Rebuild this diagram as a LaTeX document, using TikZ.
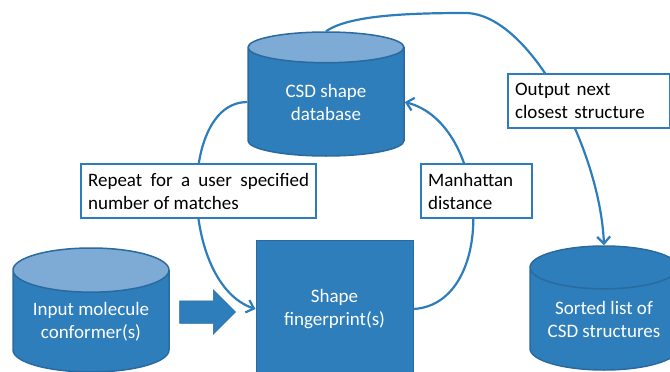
\documentclass[tikz,border=0pt]{standalone}
\usepackage{fontspec}
\setmainfont{Carlito}
\usetikzlibrary{calc, positioning, arrows.meta, shapes.geometric, shapes.arrows}
\definecolor{dbblue}{HTML}{2E7EBB}
\definecolor{dbedge}{HTML}{2A6A9E}
\definecolor{dbtop}{HTML}{7DABD6}
\definecolor{flowblue}{HTML}{2E7DBB}
\tikzset{
	store/.style={cylinder, shape border rotate=90, aspect=0.38, anchor=shape center, draw=dbedge, line width=1.5pt,
	              cylinder uses custom fill, cylinder body fill=dbblue, cylinder end fill=dbtop,
	              minimum width=156pt, minimum height=124pt, inner sep=0pt, text=white, align=center},
	flow/.style={-{Straight Barb[length=7pt,width=13pt]}, draw=flowblue, line width=2.2pt},
	note/.style={draw=flowblue, fill=white, line width=2.2pt, inner xsep=7pt, inner ysep=0pt, anchor=north west, text=black}
}
\begin{document}
\begin{tikzpicture}[x=1pt, y=-1pt, font=\fontsize{19}{23}\selectfont]
	\useasboundingbox (0,0) rectangle (670,372);

	\node [store] (csd) at (326,94) {CSD shape\\database};
	\node [store] (inp) at (91,310) {Input molecule\\conformer(s)};
	\node [store, cylinder end fill=dbblue, minimum width=148pt] (srt) at (604,308) {Sorted list of\\CSD structures};
	\node [rectangle, fill=dbblue, draw=dbedge, line width=1pt, minimum width=157pt, minimum height=138pt,
	       text=white, align=center] (fp) at (334.5,309) {Shape\\fingerprint(s)};
	\node [single arrow, fill=dbblue, draw=dbedge, line width=0.5pt, minimum width=44pt, minimum height=56pt,
	       single arrow head extend=11pt, inner sep=0pt] (feed) at (202,312) {\rule{0pt}{22pt}};

	\coordinate (peak) at (465,13);
	\draw [flow] (csd.west) .. controls +(-70,0) and +(-75,-25) .. (fp.west);
	\draw [flow] (fp.east) .. controls +(85,-5) and +(85,22) .. (csd.east);
	\draw [flow] (csd.north) .. controls +(22,-15) and +(-65,0) .. (peak)
	             .. controls +(65,0) and +(-4,-95) .. (srt.north);

	% labels sit on top of the curves
	\node [note, text width=221pt, minimum height=54pt, align=justify] (rep) at (80,163)
		{Repeat for a user specified number of matches};
	\node [note, text width=97pt, minimum height=54pt, align=left] (man) at (420,163) {Manhattan\\distance};
	\node [note, text width=148pt, minimum height=54pt, align=left] (out) at (507,72.5) {Output next\\closest structure};
\end{tikzpicture}
\end{document}
